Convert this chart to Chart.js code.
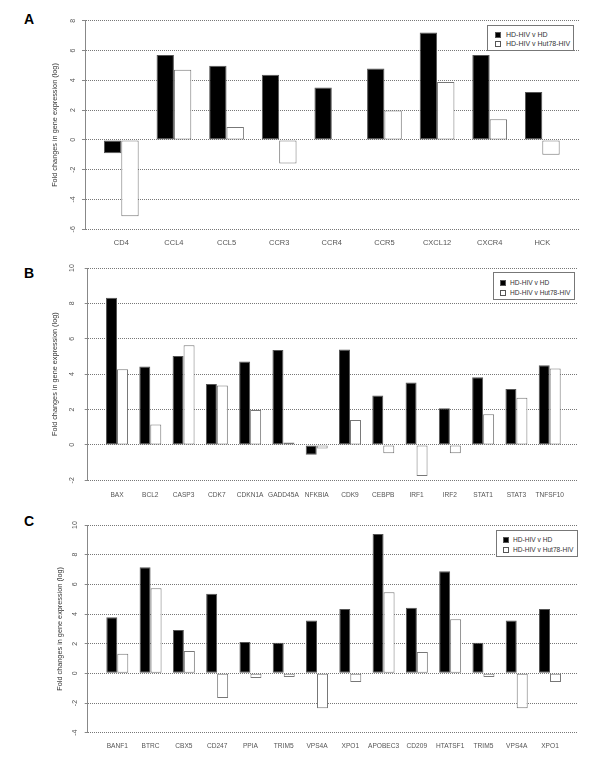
<!DOCTYPE html>
<html>
<head>
<meta charset="utf-8">
<script src="https://cdn.jsdelivr.net/npm/chart.js@4/dist/chart.umd.min.js"></script>
<style>
  body { margin: 0; background: #fff; width: 600px; height: 760px; position: relative; overflow: hidden;
         font-family: "Liberation Sans", Arial, sans-serif; }
  canvas { position: absolute; left: 0; }
  .letter { position: absolute; font-weight: bold; font-size: 14px; color: #000; }
  .legend { position: absolute; border: 1px solid #777; background: #fff; font-size: 7px; color: #333; box-sizing: border-box; }
  .legend .row { position: absolute; left: 0; white-space: nowrap; line-height: 8px; }
  .legend .mark { position: absolute; width: 4px; height: 4px; border: 1px solid #555; top: 1px; }
  .legend .txt { position: absolute; top: 0; }
</style>
</head>
<body>
<div class="letter" style="left:24px; top:11px;">A</div>
<div class="letter" style="left:24px; top:265px;">B</div>
<div class="letter" style="left:24px; top:513px;">C</div>

<canvas id="chartA" width="600" height="255" style="top:0px"></canvas>
<canvas id="chartB" width="600" height="250" style="top:255px"></canvas>
<canvas id="chartC" width="600" height="255" style="top:505px"></canvas>

<script>
// series names
const seriesNames = ['HD-HIV v HD', 'HD-HIV v Hut78-HIV'];
const yTitle = 'Fold changes in gene expression (log)';

// panel A
const categoriesA = ['CD4', 'CCL4', 'CCL5', 'CCR3', 'CCR4', 'CCR5', 'CXCL12', 'CXCR4', 'HCK'];
const hdA  = [-0.89, 5.70, 4.97, 4.38, 3.51, 4.79, 7.20, 5.70, 3.22];
const hutA = [-5.12, 4.70, 0.87, -1.59, 0.04, 1.97, 3.89, 1.39, -1.00];
const yRangeA = [-6, 8];

// panel B
const categoriesB = ['BAX', 'BCL2', 'CASP3', 'CDK7', 'CDKN1A', 'GADD45A', 'NFKBIA', 'CDK9', 'CEBPB', 'IRF1', 'IRF2', 'STAT1', 'STAT3', 'TNFSF10'];
const hdB  = [8.32, 4.43, 5.03, 3.44, 4.71, 5.37, -0.56, 5.39, 2.80, 3.53, 2.07, 3.83, 3.16, 4.51];
const hutB = [4.28, 1.16, 5.63, 3.36, 1.97, 0.13, -0.20, 1.41, -0.47, -1.75, -0.47, 1.73, 2.67, 4.32];
const yRangeB = [-2, 10];

// panel C
const categoriesC = ['BANF1', 'BTRC', 'CBX5', 'CD247', 'PPIA', 'TRIM5', 'VPS4A', 'XPO1', 'APOBEC3', 'CD209', 'HTATSF1', 'TRIM5', 'VPS4A', 'XPO1'];
const hdC  = [3.78, 7.15, 2.92, 5.37, 2.11, 2.07, 3.57, 4.34, 9.39, 4.43, 6.88, 2.07, 3.57, 4.34];
const hutC = [1.33, 5.73, 1.51, -1.66, -0.31, -0.25, -2.36, -0.58, 5.46, 1.44, 3.64, -0.25, -2.36, -0.58];
const yRangeC = [-4, 10];

const yStep = 2;

const FONT = '"Liberation Sans", Arial, sans-serif';

function makePanel(id, cats, s1, s2, yRange, geo) {
    const n = cats.length;
    // x is a linear index axis so the empty margin left/right of the groups can match the picture
    const spacing = (geo.lastCenter - geo.firstCenter) / (n - 1);
    const xMin = -(geo.firstCenter - geo.left) / spacing;
    const xMax = (n - 1) + (geo.right - geo.lastCenter) / spacing;
    const xAxisH = 22;

    new Chart(document.getElementById(id), {
        type: 'bar',
        data: {
            datasets: [{
                label: seriesNames[0],
                data: s1.map((v, i) => ({ x: i, y: v })),
                backgroundColor: '#000',
                borderColor: '#555',
                borderWidth: 1,
                borderSkipped: false,
                categoryPercentage: 0.66,
                barPercentage: 1
            }, {
                label: seriesNames[1],
                data: s2.map((v, i) => ({ x: i, y: v })),
                backgroundColor: '#fff',
                borderColor: '#777',
                borderWidth: 1,
                borderSkipped: false,
                categoryPercentage: 0.66,
                barPercentage: 1
            }]
        },
        options: {
            responsive: false,
            animation: false,
            devicePixelRatio: 1,
            layout: {
                padding: {
                    left: 0,
                    right: 600 - geo.right,
                    top: geo.top - geo.canvasTop,
                    bottom: geo.canvasTop + geo.canvasH - geo.bottom - xAxisH
                }
            },
            plugins: { legend: { display: false }, tooltip: { enabled: false } },
            scales: {
                x: {
                    type: 'linear',
                    bounds: 'data',
                    offset: false,
                    min: xMin,
                    max: xMax,
                    grid: { display: false, drawTicks: false, offset: false },
                    border: { display: false },
                    afterBuildTicks: s => { s.ticks = cats.map((c, i) => ({ value: i })); },
                    afterFit: s => { s.height = xAxisH; },
                    ticks: {
                        autoSkip: false,
                        maxRotation: 0,
                        padding: geo.labelGap - geo.labelSize * 0.6,
                        color: '#555',
                        font: { family: FONT, size: geo.labelSize },
                        callback: (v, i) => cats[i]
                    }
                },
                y: {
                    min: yRange[0],
                    max: yRange[1],
                    afterFit: s => { s.width = geo.left; },
                    grid: { color: '#777', lineWidth: 1, tickLength: 3, tickColor: '#888' },
                    border: { display: true, color: '#888', width: 1, dash: [1, 1] },
                    ticks: {
                        stepSize: yStep,
                        minRotation: 90,
                        crossAlign: 'center',
                        padding: geo.tickPad,
                        color: '#555',
                        font: { family: FONT, size: 7 }
                    },
                    title: {
                        display: true,
                        text: yTitle,
                        color: '#333',
                        font: { family: FONT, size: 7.3 },
                        padding: { top: geo.titleX - 4.4, bottom: 0 }
                    }
                }
            }
        }
    });
}

function makeLegend(box) {
    const div = document.createElement('div');
    div.className = 'legend';
    div.style.left = box.x + 'px';
    div.style.top = box.y + 'px';
    div.style.width = box.w + 'px';
    div.style.height = box.h + 'px';
    div.style.fontSize = box.size + 'px';
    seriesNames.forEach((name, i) => {
        const row = document.createElement('div');
        row.className = 'row';
        row.style.top = (box.row1 - box.y - 4 + i * box.rowGap) + 'px';
        const mark = document.createElement('span');
        mark.className = 'mark';
        mark.style.left = (box.markX - box.x - 3) + 'px';
        mark.style.background = i === 0 ? '#000' : '#fff';
        const txt = document.createElement('span');
        txt.className = 'txt';
        txt.style.left = (box.textX - box.x - 1) + 'px';
        txt.textContent = name;
        row.appendChild(mark);
        row.appendChild(txt);
        div.appendChild(row);
    });
    document.body.appendChild(div);
}

makePanel('chartA', categoriesA, hdA, hutA, yRangeA,
    { canvasTop: 0, canvasH: 255, left: 85, right: 580, top: 20.7, bottom: 229.3,
      firstCenter: 121.3, lastCenter: 542.3, tickPad: 6, titleX: 55, labelSize: 7.5, labelGap: 13.5 });
makePanel('chartB', categoriesB, hdB, hutB, yRangeB,
    { canvasTop: 255, canvasH: 250, left: 87.7, right: 578, top: 267.3, bottom: 480.3,
      firstCenter: 117, lastCenter: 549.7, tickPad: 8.8, titleX: 55, labelSize: 6.6, labelGap: 14.5 });
makePanel('chartC', categoriesC, hdC, hutC, yRangeC,
    { canvasTop: 505, canvasH: 255, left: 87.7, right: 578, top: 525, bottom: 732.7,
      firstCenter: 117.3, lastCenter: 550, tickPad: 5.5, titleX: 60, labelSize: 6.6, labelGap: 13.5 });

makeLegend({ x: 487, y: 25, w: 87, h: 26, row1: 34, rowGap: 9, markX: 497, textX: 506, size: 7 });
makeLegend({ x: 493, y: 272, w: 82, h: 28, row1: 281.5, rowGap: 10.5, markX: 502, textX: 510, size: 6.6 });
makeLegend({ x: 496, y: 530, w: 82, h: 27, row1: 539, rowGap: 10, markX: 505, textX: 513, size: 6.6 });
</script>
</body>
</html>
